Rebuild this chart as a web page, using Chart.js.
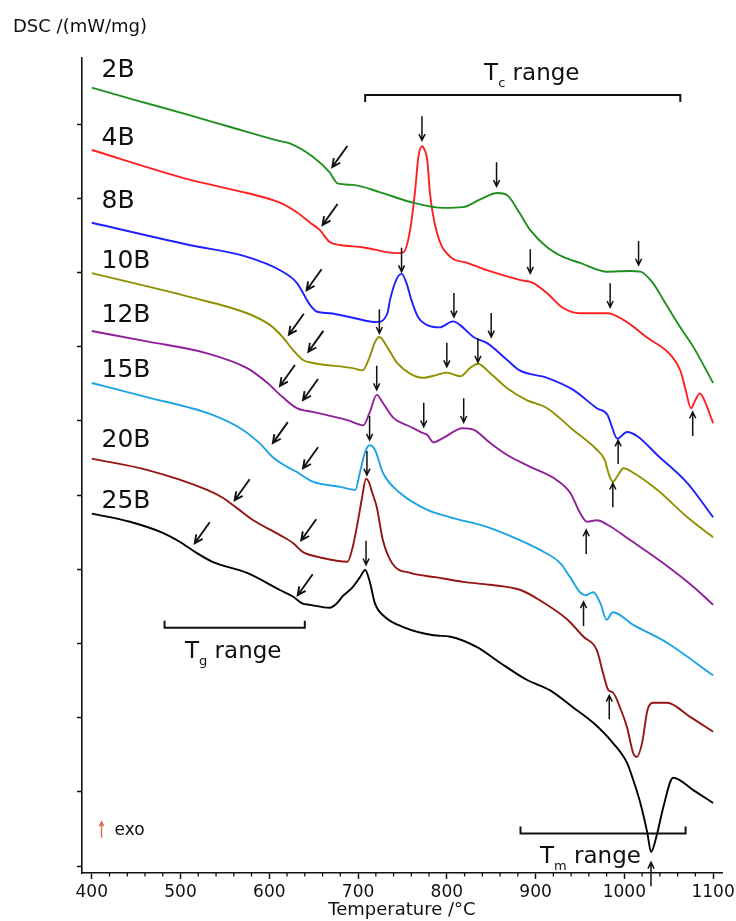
<!DOCTYPE html>
<html lang="en">
<head>
  <meta charset="UTF-8">
  <title>DSC curves</title>
  <script src="https://cdn.jsdelivr.net/npm/chart.js@4.4.1/dist/chart.umd.min.js"></script>
  <style>
    html, body { margin: 0; padding: 0; background: #fff; }
    .chart-box { width: 736px; height: 921px; position: relative; }
  </style>
</head>
<body>

  <div class="chart-box"><canvas id="dscChart"></canvas></div>

  <script>
    // Samples, top to bottom
    const samples = ['2B', '4B', '8B', '10B', '12B', '15B', '20B', '25B'];
    const colors = ['#1f8f1f', '#ff1f1f', '#1f1fff', '#8f8f00', '#901f9a', '#1ca3e6', '#931515', '#000000'];

    // Temperature (°C) and DSC signal (arbitrary offset units, 10 per y tick)
    const temp2B = [400, 450, 510, 556, 612, 623, 649, 668, 677, 694, 725, 762, 796, 818, 837, 857, 868, 882, 894, 913, 931, 950, 981, 1006, 1018, 1032, 1044, 1063, 1078, 1100];
    const dsc2B  = [104.9, 103.2, 101.2, 99.6, 97.7, 97.4, 95.6, 93.5, 92.0, 91.8, 90.8, 89.4, 88.7, 88.8, 89.8, 90.7, 90.4, 88.0, 85.7, 83.4, 82.1, 81.3, 80.1, 80.2, 80.1, 78.6, 76.3, 72.6, 69.9, 65.1];

    const temp4B = [400, 510, 575, 612, 631, 646, 657, 668, 680, 705, 744, 751, 758, 764, 768, 772, 775, 778, 781, 789, 804, 823, 845, 882, 897, 913, 931, 950, 981, 999, 1026, 1052, 1063, 1069, 1075, 1080, 1085, 1090, 1100];
    const dsc4B  = [96.5, 92.5, 90.7, 89.4, 88.1, 86.7, 85.7, 84.1, 83.7, 83.4, 82.6, 82.7, 85.3, 90.7, 95.6, 97.0, 96.5, 95.1, 90.7, 85.3, 82.1, 81.3, 80.3, 79.0, 78.6, 77.2, 75.2, 74.5, 74.5, 73.6, 71.2, 68.9, 66.8, 64.2, 61.7, 62.8, 63.7, 62.8, 59.7];

    const temp8B = [400, 510, 575, 612, 631, 646, 654, 668, 694, 721, 733, 736, 743, 749, 755, 760, 768, 778, 792, 807, 815, 830, 845, 868, 882, 913, 942, 969, 981, 986, 992, 1003, 1015, 1037, 1071, 1100];
    const dsc8B  = [86.7, 83.7, 82.1, 80.3, 78.6, 75.6, 74.7, 74.5, 73.9, 73.3, 74.5, 76.3, 79.0, 79.8, 78.4, 76.3, 73.9, 72.9, 72.6, 73.4, 72.9, 71.3, 70.5, 68.2, 66.8, 65.8, 64.2, 61.7, 60.8, 59.2, 57.6, 58.5, 57.9, 55.4, 51.6, 47.0];

    const temp10B = [400, 510, 575, 601, 615, 627, 638, 649, 694, 705, 713, 719, 724, 733, 744, 758, 773, 789, 800, 815, 826, 835, 849, 868, 890, 913, 942, 969, 978, 982, 987, 993, 999, 1010, 1037, 1071, 1100];
    const dsc10B  = [79.9, 76.7, 74.5, 72.9, 71.3, 69.5, 68.2, 67.8, 67.1, 66.8, 68.6, 70.6, 71.3, 69.9, 67.8, 66.4, 65.8, 66.2, 66.5, 66.0, 67.1, 67.7, 66.4, 64.4, 62.8, 61.7, 58.8, 56.1, 54.7, 53.0, 51.8, 52.7, 53.6, 53.0, 50.7, 47.0, 44.3];

    const temp12B = [400, 462, 530, 575, 597, 615, 631, 649, 688, 706, 713, 721, 728, 739, 759, 772, 778, 785, 796, 818, 830, 849, 868, 894, 924, 939, 950, 958, 969, 981, 1007, 1044, 1078, 1100];
    const dsc12B  = [72.1, 70.7, 69.1, 67.1, 65.2, 63.2, 61.7, 61.2, 60.1, 59.4, 61.1, 63.5, 62.4, 60.5, 59.2, 58.4, 58.1, 57.1, 57.7, 59.0, 58.8, 57.0, 55.4, 53.8, 52.0, 50.3, 47.6, 46.4, 46.6, 46.0, 43.9, 40.8, 37.6, 35.2];

    const temp15B = [400, 462, 536, 570, 589, 604, 620, 631, 649, 680, 697, 702, 708, 713, 719, 728, 747, 778, 804, 845, 875, 905, 928, 939, 950, 956, 965, 973, 980, 987, 1010, 1048, 1100];
    const dsc15B  = [65.1, 63.2, 60.8, 58.8, 57.0, 55.1, 53.8, 53.1, 51.8, 51.1, 50.7, 53.0, 55.8, 56.7, 56.1, 53.0, 50.3, 48.0, 47.0, 45.7, 44.3, 42.6, 40.8, 38.9, 36.9, 36.5, 36.9, 35.4, 33.2, 34.2, 32.5, 30.1, 25.7];

    const temp20B = [400, 462, 530, 548, 564, 582, 612, 627, 638, 657, 688, 694, 700, 704, 709, 712, 716, 721, 728, 739, 759, 789, 818, 849, 883, 905, 936, 954, 969, 976, 982, 987, 995, 1003, 1010, 1014, 1020, 1026, 1033, 1048, 1074, 1100];
    const dsc20B  = [54.9, 53.4, 50.7, 49.6, 48.2, 46.6, 44.6, 43.5, 42.3, 41.6, 41.0, 43.0, 46.6, 49.3, 52.2, 51.8, 50.3, 48.4, 43.9, 40.7, 39.5, 38.9, 38.3, 37.9, 37.2, 35.8, 33.2, 30.9, 29.1, 26.0, 23.7, 23.4, 21.4, 18.7, 15.2, 14.7, 16.6, 21.0, 22.0, 22.0, 20.1, 18.1];

    const temp25B = [400, 443, 480, 499, 518, 536, 575, 612, 627, 637, 646, 668, 676, 683, 694, 702, 708, 713, 719, 730, 751, 785, 804, 834, 860, 890, 916, 942, 965, 987, 1003, 1010, 1018, 1026, 1030, 1037, 1044, 1055, 1078, 1100];
    const dsc25B  = [47.5, 46.4, 44.9, 43.7, 42.2, 41.0, 39.5, 37.2, 36.3, 35.4, 35.2, 34.8, 35.4, 36.4, 37.6, 38.9, 39.9, 38.4, 35.4, 33.6, 32.2, 31.1, 30.9, 29.5, 27.4, 25.1, 23.7, 21.4, 19.3, 16.6, 13.9, 11.6, 8.5, 4.4, 1.9, 4.4, 8.0, 11.9, 10.2, 8.5];

    const temps = [temp2B, temp4B, temp8B, temp10B, temp12B, temp15B, temp20B, temp25B];
    const signals = [dsc2B, dsc4B, dsc8B, dsc10B, dsc12B, dsc15B, dsc20B, dsc25B];

    // Axis ticks
    const xTicks = [400, 500, 600, 700, 800, 900, 1000, 1100];
    const yTicks = [0, 10, 20, 30, 40, 50, 60, 70, 80, 90, 100];

    // Sample label anchors (temperature, signal at baseline)
    const labelTemp = 411;
    const labelSignal = [106.3, 97.2, 88.7, 80.6, 73.3, 65.9, 56.5, 48.2];

    // Arrow tips [temperature, signal]
    const tgArrows = [[671, 94.2], [660, 86.4], [642, 77.6], [622, 71.6], [644, 69.3], [612, 64.7], [638, 62.8],
                      [604, 57.0], [638, 53.6], [561, 49.3], [636, 43.9], [516, 43.5], [632, 36.5]];
    const tcArrows = [[856, 91.6], [1016, 81.0], [772, 97.8], [894, 79.9], [984, 75.3], [749, 80.1], [808, 74.0],
                      [850, 71.3], [724, 71.8], [800, 67.3], [835, 67.9], [721, 64.2], [774, 59.2], [819, 59.8],
                      [713, 57.4], [710, 52.7], [709, 40.6]];
    const tmArrows = [[1077, 61.2], [993, 57.4], [987, 51.6], [957, 45.3], [954, 35.6], [983, 23.0], [1030, 0.5]];

    // Range brackets: [from, to, level], tick direction, label anchor
    const ranges = [
      { sub: 'c', from: 708, to: 1063, level: 103.9, dir: 1,  textTemp: 842, textSignal: 105.9 },
      { sub: 'g', from: 482, to: 640,  level: 32.1,  dir: -1, textTemp: 505, textSignal: 28.0 },
      { sub: 'm', from: 883, to: 1069, level: 4.4,   dir: -1, textTemp: 905, textSignal: 0.4 }
    ];
    const exoMark = [411, 4.9];

    function drawArrow(ctx, x1, y1, x2, y2, head) {
      const a = Math.atan2(y2 - y1, x2 - x1);
      ctx.beginPath();
      ctx.moveTo(x1, y1);
      ctx.lineTo(x2, y2);
      ctx.moveTo(x2 - head * Math.cos(a - 0.45), y2 - head * Math.sin(a - 0.45));
      ctx.lineTo(x2, y2);
      ctx.lineTo(x2 - head * Math.cos(a + 0.45), y2 - head * Math.sin(a + 0.45));
      ctx.stroke();
    }

    // Draws the labels, arrows and brackets on top of the curves
    const annotations = {
      id: 'annotations',
      afterDraw(chart) {
        const { ctx, scales: { x, y }, chartArea } = chart;
        ctx.save();
        ctx.strokeStyle = '#111';
        ctx.fillStyle = '#111';

        // minor x ticks
        ctx.lineWidth = 1.3;
        for (let v = 420; v < 1100; v += 20) {
          if (v % 100 === 0) continue;
          const px = x.getPixelForValue(v);
          ctx.beginPath();
          ctx.moveTo(px, chartArea.bottom);
          ctx.lineTo(px, chartArea.bottom + 3.5);
          ctx.stroke();
        }

        // y axis caption
        ctx.font = '18px "DejaVu Sans"';
        ctx.textAlign = 'left';
        ctx.textBaseline = 'alphabetic';
        ctx.fillText('DSC /(mW/mg)', 13, 32);

        // sample labels
        ctx.font = '25px "DejaVu Sans"';
        samples.forEach((s, i) => {
          ctx.fillText(s, x.getPixelForValue(labelTemp), y.getPixelForValue(labelSignal[i]));
        });

        // Tg arrows (down-left)
        ctx.lineWidth = 1.9;
        ctx.lineJoin = 'miter';
        tgArrows.forEach(([t, v]) => {
          const px = x.getPixelForValue(t), py = y.getPixelForValue(v);
          drawArrow(ctx, px + 15, py - 21, px, py, 9);
        });

        // Tc arrows (down) and Tm arrows (up)
        ctx.lineWidth = 1.5;
        tcArrows.forEach(([t, v]) => {
          const px = x.getPixelForValue(t), py = y.getPixelForValue(v);
          drawArrow(ctx, px, py - 24, px, py, 7);
        });
        tmArrows.forEach(([t, v]) => {
          const px = x.getPixelForValue(t), py = y.getPixelForValue(v);
          drawArrow(ctx, px, py + 24, px, py, 7);
        });

        // range brackets
        ranges.forEach(r => {
          const x1 = x.getPixelForValue(r.from), x2 = x.getPixelForValue(r.to);
          const py = y.getPixelForValue(r.level);
          ctx.lineWidth = 2;
          ctx.beginPath();
          ctx.moveTo(x1, py + 7 * r.dir);
          ctx.lineTo(x1, py);
          ctx.lineTo(x2, py);
          ctx.lineTo(x2, py + 7 * r.dir);
          ctx.stroke();

          let tx = x.getPixelForValue(r.textTemp);
          const ty = y.getPixelForValue(r.textSignal);
          ctx.font = '23px "DejaVu Sans"';
          ctx.fillText('T', tx, ty);
          tx += ctx.measureText('T').width;
          ctx.font = '13px "DejaVu Sans"';
          ctx.fillText(r.sub, tx, ty + 7);
          tx += ctx.measureText(r.sub).width;
          ctx.font = '23px "DejaVu Sans"';
          ctx.fillText(' range', tx, ty);
        });

        // exo marker
        const ex = x.getPixelForValue(exoMark[0]), ey = y.getPixelForValue(exoMark[1]);
        ctx.strokeStyle = '#e0604c';
        ctx.lineWidth = 1.3;
        drawArrow(ctx, ex, ey + 8, ex, ey - 8, 5);
        ctx.fillStyle = '#111';
        ctx.font = '17px "DejaVu Sans"';
        ctx.textBaseline = 'middle';
        ctx.fillText('exo', ex + 13, ey + 1);

        ctx.restore();
      }
    };

    const datasets = samples.map((s, i) => ({
      label: s,
      data: temps[i].map((t, j) => ({ x: t, y: signals[i][j] })),
      borderColor: colors[i],
      borderWidth: 1.9,
      pointRadius: 0,
      fill: false,
      cubicInterpolationMode: 'monotone'
    }));

    new Chart(document.getElementById('dscChart'), {
      type: 'line',
      data: { datasets: datasets },
      options: {
        responsive: true,
        maintainAspectRatio: false,
        animation: false,
        layout: { padding: { left: 0, top: 58, right: 14, bottom: 0 } },
        plugins: {
          legend: { display: false },
          tooltip: { enabled: false }
        },
        scales: {
          x: {
            type: 'linear',
            min: 389,
            max: 1110,
            afterBuildTicks: scale => { scale.ticks = xTicks.map(v => ({ value: v })); },
            afterFit: scale => { scale.height = 48; scale.paddingLeft = 0; scale.paddingRight = 0; },
            grid: { drawOnChartArea: false, drawTicks: true, tickLength: 6, tickColor: '#111', tickWidth: 1.5 },
            border: { display: true, color: '#111', width: 1.6 },
            ticks: {
              color: '#111',
              padding: 3,
              maxRotation: 0,
              font: { family: 'DejaVu Sans', size: 17 },
              callback: v => String(v)
            },
            title: {
              display: true,
              text: 'Temperature /°C',
              color: '#111',
              padding: { top: 0, bottom: 0 },
              font: { family: 'DejaVu Sans', size: 18 }
            }
          },
          y: {
            type: 'linear',
            min: -0.94,
            max: 108.9,
            afterBuildTicks: scale => { scale.ticks = yTicks.map(v => ({ value: v })); },
            afterFit: scale => { scale.width = 82; },
            grid: { drawOnChartArea: false, drawTicks: true, tickLength: 5, tickColor: '#111', tickWidth: 1.5 },
            border: { display: true, color: '#111', width: 1.6 },
            ticks: { display: false }
          }
        }
      },
      plugins: [annotations]
    });
  </script>
</body>
</html>
